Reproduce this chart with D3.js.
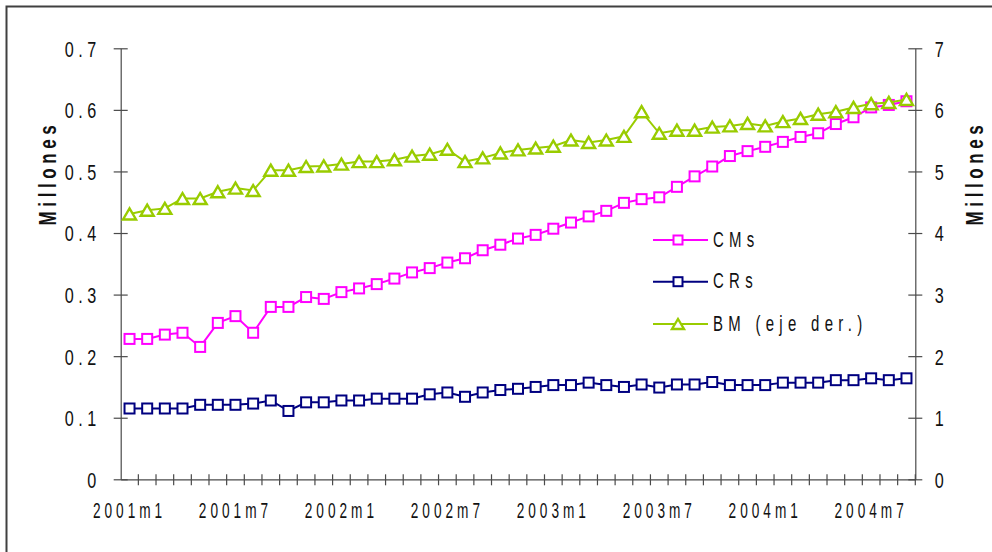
<!DOCTYPE html>
<html>
<head>
<meta charset="utf-8">
<script src="https://cdn.jsdelivr.net/npm/d3@7"></script>
<style>
  html, body { margin: 0; padding: 0; background: #fff; }
  svg { display: block; }
  text { font-family: "Liberation Sans", Arial, sans-serif; fill: #111; }
</style>
</head>
<body>
<svg id="chart" width="992" height="552"></svg>
<script>
// Monthly periods 2001m1 .. 2004m9
const years = [2001, 2002, 2003, 2004];
const months = d3.range(1, 13);
const periods = years.flatMap(y => months.map(m => `${y}m${m}`)).slice(0, 45);

// Left axis series (millones)
const cms = [0.228, 0.228, 0.235, 0.238, 0.215, 0.254, 0.265, 0.238, 0.280, 0.280,
             0.296, 0.293, 0.304, 0.310, 0.317, 0.326, 0.336, 0.343, 0.352, 0.359,
             0.372, 0.381, 0.391, 0.397, 0.407, 0.417, 0.427, 0.436, 0.449, 0.455,
             0.458, 0.475, 0.492, 0.508, 0.525, 0.533, 0.540, 0.548, 0.556, 0.562,
             0.577, 0.588, 0.604, 0.608, 0.614];
const crs = [0.115, 0.115, 0.115, 0.115, 0.121, 0.121, 0.121, 0.123, 0.128, 0.111,
             0.125, 0.125, 0.128, 0.128, 0.131, 0.131, 0.131, 0.138, 0.141, 0.134,
             0.141, 0.145, 0.147, 0.150, 0.153, 0.153, 0.157, 0.153, 0.150, 0.154,
             0.149, 0.154, 0.154, 0.158, 0.153, 0.153, 0.153, 0.157, 0.157, 0.157,
             0.161, 0.161, 0.164, 0.161, 0.164];
// Right axis series (millones)
const bm = [4.31, 4.37, 4.40, 4.56, 4.56, 4.67, 4.73, 4.69, 5.02, 5.02,
            5.08, 5.09, 5.12, 5.16, 5.16, 5.19, 5.25, 5.28, 5.36, 5.16,
            5.22, 5.30, 5.35, 5.38, 5.41, 5.51, 5.47, 5.51, 5.57, 5.97,
            5.62, 5.67, 5.67, 5.72, 5.74, 5.78, 5.74, 5.81, 5.86, 5.93,
            5.97, 6.04, 6.10, 6.12, 6.17];

const leftTicks = [0, 0.1, 0.2, 0.3, 0.4, 0.5, 0.6, 0.7];
const rightTicks = [0, 1, 2, 3, 4, 5, 6, 7];
const xLabels = ["2001m1", "2001m7", "2002m1", "2002m7", "2003m1", "2003m7", "2004m1", "2004m7"];

const seriesNames = ["CMs", "CRs", "BM (eje der.)"];
const seriesColors = ["#ff00ff", "#000080", "#99cc00"];

const svg = d3.select("#chart");
const axisColor = "#4a4a4a";

// Horizontally condensed, letter-spaced text (narrow face look)
function condense(sel, { size, sx, spacing, weight }) {
  sel.each(function () {
    const t = d3.select(this);
    const x0 = +t.attr("x") || 0, y0 = +t.attr("y") || 0;
    const prev = t.attr("transform") || "";
    t.attr("x", 0).attr("y", 0)
      .attr("transform", `${prev} translate(${x0},${y0}) scale(${sx},1)`)
      .style("font-size", size + "px")
      .style("letter-spacing", (spacing / sx) + "px")
      .style("font-weight", weight || "normal")
      .style("white-space", "pre");
  });
}

// outer frame
svg.append("path")
  .attr("d", "M6.5,560 V6.5 H1000")
  .attr("fill", "none").attr("stroke", "#404040").attr("stroke-width", 2);

const plot = { left: 120.7, right: 915.3, top: 48.3, bottom: 479.3 };

const x = d3.scaleBand().domain(periods).range([plot.left, plot.right]).padding(0);
const cx = d => x(d) + x.bandwidth() / 2;
const yL = d3.scaleLinear().domain([0, 0.7]).range([plot.bottom, plot.top]);
const yR = d3.scaleLinear().domain([0, 7]).range([plot.bottom, plot.top]);

function styleAxis(g) {
  g.select(".domain").attr("stroke", axisColor).attr("stroke-width", 1.2);
  g.selectAll(".tick line").attr("stroke", axisColor).attr("stroke-width", 1.2);
  g.selectAll("text").attr("fill", "#111");
}

const tickFont = { size: 22.5, sx: 0.72, spacing: 4.5 };

// left axis with ticks crossing the line
const gL = svg.append("g").attr("transform", `translate(${plot.left},0)`)
  .call(d3.axisLeft(yL).tickValues(leftTicks).tickSize(7).tickSizeOuter(0)
        .tickFormat(d => d === 0 ? "0" : d3.format(".1f")(d)));
gL.selectAll(".tick line").attr("x1", 7);
gL.selectAll(".tick text").attr("x", -20).attr("dy", "0.35em");
styleAxis(gL);
condense(gL.selectAll(".tick text"), tickFont);

// right axis
const gR = svg.append("g").attr("transform", `translate(${plot.right},0)`)
  .call(d3.axisRight(yR).tickValues(rightTicks).tickSize(7).tickSizeOuter(0).tickFormat(d3.format("d")));
gR.selectAll(".tick line").attr("x1", -7);
gR.selectAll(".tick text").attr("x", 19.5).attr("dy", "0.35em");
styleAxis(gR);
condense(gR.selectAll(".tick text"), tickFont);

// bottom axis: labels centred on categories, ticks on category boundaries
const gB = svg.append("g").attr("transform", `translate(0,${plot.bottom})`)
  .call(d3.axisBottom(x).tickValues(xLabels).tickSize(0).tickSizeOuter(0));
gB.selectAll(".tick text").attr("y", 39).attr("dy", 0);
styleAxis(gB);
condense(gB.selectAll(".tick text"), { size: 22, sx: 0.62, spacing: 4 });
gB.selectAll("line.sep")
  .data(periods.slice(1).map(p => x(p)).concat([plot.right]))
  .enter().append("line").attr("class", "sep")
  .attr("x1", d => d).attr("x2", d => d).attr("y1", -5).attr("y2", 6)
  .attr("stroke", axisColor).attr("stroke-width", 1.2);

// axis titles
function title(xPos) {
  const t = svg.append("text")
    .attr("transform", `translate(${xPos},173) rotate(-90)`)
    .attr("text-anchor", "middle")
    .text("Millones");
  condense(t, { size: 23, sx: 0.74, spacing: 4.6, weight: "bold" });
}
title(55.5);
title(982.5);

// markers
const sq = 10, tri = 13;
function drawMarker(g, shape, color) {
  if (shape === "square") {
    g.append("rect").attr("x", -sq / 2).attr("y", -sq / 2).attr("width", sq).attr("height", sq)
      .attr("fill", "#fff").attr("stroke", color).attr("stroke-width", 2);
  } else {
    const h = tri * 0.85;
    g.append("path").attr("d", `M0,${-h / 2} L${tri / 2},${h / 2} L${-tri / 2},${h / 2} Z`)
      .attr("fill", "#fff").attr("stroke", color).attr("stroke-width", 2.4);
  }
}

function drawSeries(values, yScale, color, shape) {
  const g = svg.append("g");
  const line = d3.line().x((d, i) => cx(periods[i])).y(d => yScale(d));
  g.append("path").datum(values).attr("d", line)
    .attr("fill", "none").attr("stroke", color).attr("stroke-width", 2);
  values.forEach((v, i) => {
    const m = g.append("g").attr("transform", `translate(${cx(periods[i])},${yScale(v)})`);
    drawMarker(m, shape, color);
  });
}

drawSeries(cms, yL, seriesColors[0], "square");
drawSeries(crs, yL, seriesColors[1], "square");
drawSeries(bm, yR, seriesColors[2], "triangle");

// legend
const legendY = [240, 281.7, 324];
const shapes = ["square", "square", "triangle"];
seriesNames.forEach((name, i) => {
  const g = svg.append("g").attr("transform", `translate(653,${legendY[i]})`);
  g.append("line").attr("x1", 0).attr("x2", 55).attr("y1", 0).attr("y2", 0)
    .attr("stroke", seriesColors[i]).attr("stroke-width", 2);
  const m = g.append("g").attr("transform", "translate(25,0)");
  if (shapes[i] === "square") {
    m.append("rect").attr("x", -4.5).attr("y", -4.5).attr("width", 9).attr("height", 9)
      .attr("fill", "#fff").attr("stroke", seriesColors[i]).attr("stroke-width", 2);
  } else {
    m.append("path").attr("d", "M0,-5 L6,5 L-6,5 Z")
      .attr("fill", "#fff").attr("stroke", seriesColors[i]).attr("stroke-width", 2.4);
  }
  const t = g.append("text").attr("x", 60).attr("y", 6.5).text(name);
  condense(t, { size: 22, sx: 0.68, spacing: 5.3 });
});
</script>
</body>
</html>
